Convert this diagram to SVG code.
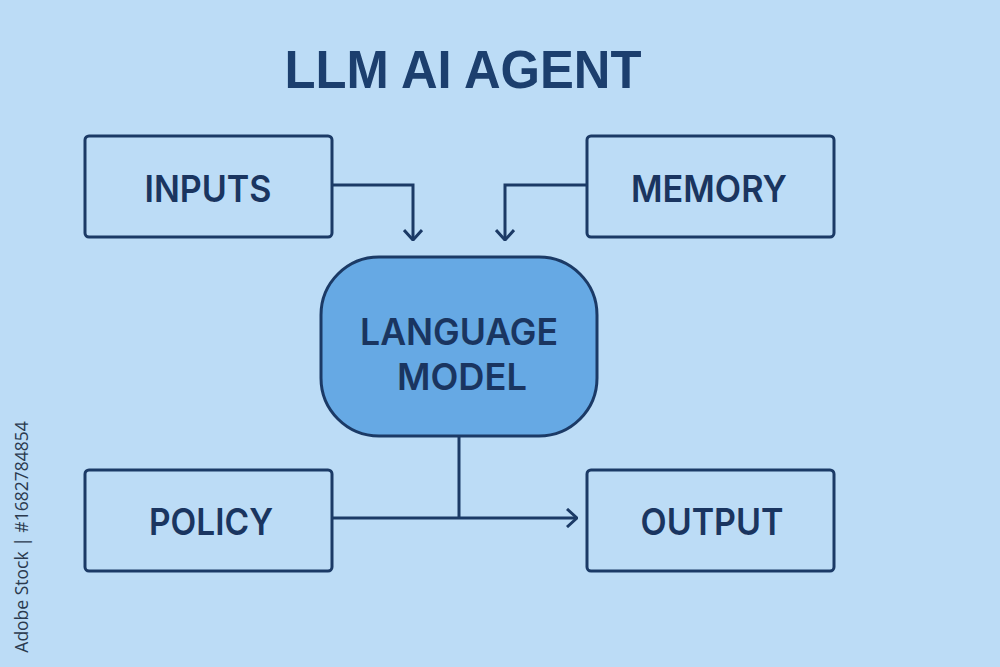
<svg xmlns="http://www.w3.org/2000/svg" width="1000" height="667" viewBox="0 0 1000 667">
<defs>
<style>
.box{fill:none;stroke:#1b3a66;stroke-width:3}
.lm{fill:#66a9e4;stroke:#1b3a66;stroke-width:3}
.lbl{font-family:Inter,"Liberation Sans",Arial,sans-serif;font-weight:600;font-size:37px;fill:#1a3560;text-anchor:middle}
.title{font-family:"Liberation Sans",Arial,sans-serif;font-weight:bold;font-size:54px;fill:#1c3f6e;text-anchor:middle}
.conn{fill:none;stroke:#1b3a66;stroke-width:3;stroke-linejoin:miter}
.wm{font-family:"Open Sans","Liberation Sans",sans-serif;font-size:17.5px;fill:#2b3a4e}
</style>
<marker id="chev" viewBox="0 0 12 20" refX="11" refY="10" markerWidth="12" markerHeight="20" markerUnits="userSpaceOnUse" orient="auto">
<path d="M1,1 L11,10 L1,19" fill="none" stroke="#1b3a66" stroke-width="3"/>
</marker>
</defs>
<rect width="1000" height="667" fill="#bcdcf6"/>
<text class="title" x="463" y="88" textLength="357" lengthAdjust="spacingAndGlyphs">LLM AI AGENT</text>
<g id="connectors">
<path class="conn" d="M332,185 H413 V240" marker-end="url(#chev)"/>
<path class="conn" d="M587,185 H505 V240" marker-end="url(#chev)"/>
<path class="conn" d="M459,436 V518"/>
<path class="conn" d="M332,518 H577" marker-end="url(#chev)"/>
</g>
<g id="inputs">
<rect class="box" x="85" y="136" width="247" height="101" rx="4"/>
<text class="lbl" x="208" y="202" textLength="127" lengthAdjust="spacingAndGlyphs">INPUTS</text>
</g>
<g id="memory">
<rect class="box" x="587" y="136" width="247" height="101" rx="4"/>
<text class="lbl" x="709" y="202" textLength="156" lengthAdjust="spacingAndGlyphs">MEMORY</text>
</g>
<g id="language-model">
<rect class="lm" x="321" y="257" width="276" height="179" rx="58"/>
<text class="lbl" x="459" y="345" textLength="198" lengthAdjust="spacingAndGlyphs">LANGUAGE</text>
<text class="lbl" x="462" y="390" textLength="130" lengthAdjust="spacingAndGlyphs">MODEL</text>
</g>
<g id="policy">
<rect class="box" x="85" y="470" width="247" height="101" rx="4"/>
<text class="lbl" x="211" y="535" textLength="124" lengthAdjust="spacingAndGlyphs">POLICY</text>
</g>
<g id="output">
<rect class="box" x="587" y="470" width="247" height="101" rx="4"/>
<text class="lbl" x="712" y="535" textLength="143" lengthAdjust="spacingAndGlyphs">OUTPUT</text>
</g>
<text class="wm" transform="translate(28,537) rotate(-90)" text-anchor="middle">Adobe Stock | #1682784854</text>
</svg>
